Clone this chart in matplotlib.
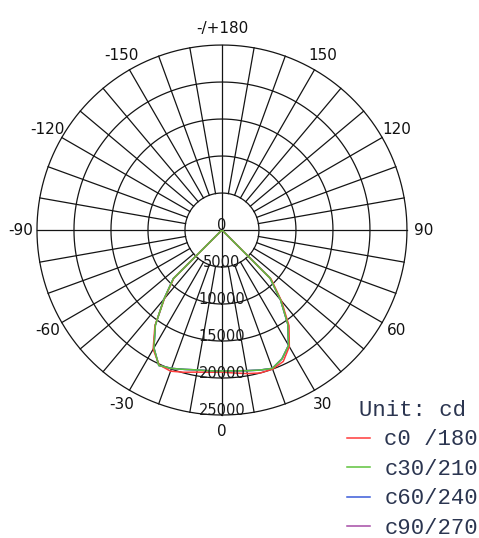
import numpy as np
import matplotlib
matplotlib.use("Agg")
import matplotlib.pyplot as plt

# gamma angles (0 = straight down), intensity in cd
angles = [-90, -85, -80, -75, -70, -65, -60, -55, -50,
          -45, -40, -35, -30, -25, -20, -15, -10, -5,
          0,
          5, 10, 15, 20, 25, 30, 35, 40, 45,
          50, 55, 60, 65, 70, 75, 80, 85, 90]

c0 = [0, 0, 0, 0, 0, 0, 0, 0, 0,
      9200, 12100, 15800, 18600, 20100, 20300, 19900, 19500, 19300,
      19200,
      19400, 19700, 20000, 20000, 19600, 18200, 15800, 12500, 9400,
      0, 0, 0, 0, 0, 0, 0, 0, 0]

c30 = [0, 0, 0, 0, 0, 0, 0, 0, 0,
       9300, 12200, 15700, 18400, 20200, 19900, 19500, 19200, 19100,
       19050,
       19100, 19300, 19600, 19900, 19200, 18000, 15500, 12300, 9200,
       0, 0, 0, 0, 0, 0, 0, 0, 0]

c60 = [0, 0, 0, 0, 0, 0, 0, 0, 0,
       9300, 12200, 15700, 18400, 20200, 19900, 19500, 19200, 19100,
       19050,
       19100, 19300, 19600, 19900, 19200, 18000, 15500, 12300, 9200,
       0, 0, 0, 0, 0, 0, 0, 0, 0]

c90 = [0, 0, 0, 0, 0, 0, 0, 0, 0,
       9300, 12200, 15700, 18400, 20200, 19900, 19500, 19200, 19100,
       19050,
       19100, 19300, 19600, 19900, 19200, 18000, 15500, 12300, 9200,
       0, 0, 0, 0, 0, 0, 0, 0, 0]

rings = [0, 5000, 10000, 15000, 20000, 25000]
tick_angles = [0, 30, 60, 90, 120, 150, 180, -150, -120, -90, -60, -30]
tick_labels = ["0", "30", "60", "90", "120", "150", "-/+180",
               "-150", "-120", "-90", "-60", "-30"]
series_names = ["c0 /180", "c30/210", "c60/240", "c90/270"]
series_colors = ["#ff3b3b", "#5ec23c", "#3a5bd9", "#a64ca6"]

rmax = 25000
grid_col = "#141414"

fig = plt.figure(figsize=(4.79, 5.38), dpi=100)
ax = fig.add_axes([0.0772, 0.2286, 0.7724, 0.6877], projection="polar")
ax.set_theta_zero_location("S")
ax.set_theta_direction(1)
ax.set_ylim(0, rmax)
ax.grid(False)
ax.set_xticks([])
ax.set_yticks([])
ax.spines["polar"].set_visible(False)

# circles
th = np.linspace(0, 2 * np.pi, 721)
for r in rings[1:]:
    ax.plot(th, np.full_like(th, r), color=grid_col, lw=0.9, clip_on=False)

# spokes every 10 deg, full lines on the axes
for a in range(0, 360, 10):
    r0 = 0 if a % 90 == 0 else rings[1]
    ax.plot([np.radians(a)] * 2, [r0, rmax], color=grid_col, lw=0.9, clip_on=False)

# angle labels
for a, lab in zip(tick_angles, tick_labels):
    ax.text(np.radians(a), 27200, lab, ha="center", va="center",
            fontsize=11, color="#111111", clip_on=False)

# ring labels along the 0 deg ray
for r in rings:
    ax.annotate(str(r), xy=(0, r), xytext=(0, 5), textcoords="offset pixels",
                ha="center", va="center", fontsize=10.5, color="#1a1a1a")

# curves (green drawn last, hides the others)
order = [3, 2, 0, 1]
data = [c0, c30, c60, c90]
handles = [None] * 4
for i in order:
    ln, = ax.plot(np.radians(angles), data[i], color=series_colors[i], lw=1.1,
                  clip_on=False)
    handles[i] = ln

leg = fig.legend(handles, series_names, loc="upper right",
                 bbox_to_anchor=(0.998, 0.2565), frameon=False,
                 title="Unit: cd", alignment="center",
                 prop={"family": "Liberation Mono", "size": 16},
                 title_fontproperties={"family": "Liberation Mono", "size": 16},
                 handlelength=1.05, handletextpad=0.65, labelspacing=0.38,
                 borderpad=0, borderaxespad=0)
for t in leg.get_texts():
    t.set_color("#2b3550")
leg.get_title().set_color("#2b3550")

fig.savefig("out.png", dpi=100)
